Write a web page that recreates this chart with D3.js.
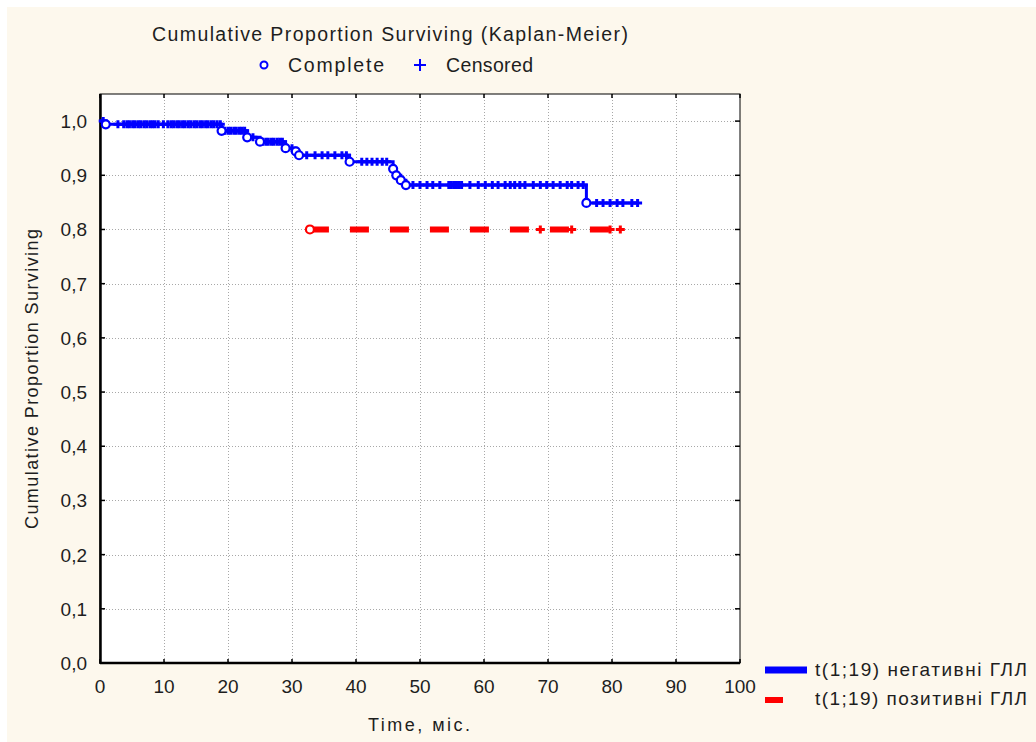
<!DOCTYPE html>
<html>
<head>
<meta charset="utf-8">
<script src="https://cdn.jsdelivr.net/npm/d3@7"></script>
<style>
  body { margin: 0; background: #fff; }
  svg text { font-family: "Liberation Sans", Arial, sans-serif; fill: #1e1e1e; }
</style>
</head>
<body>
<svg id="chart" width="1036" height="742"></svg>
<script>
// axis ticks
var xTickValues = [0, 10, 20, 30, 40, 50, 60, 70, 80, 90, 100];
var yTickValues = [0, 0.1, 0.2, 0.3, 0.4, 0.5, 0.6, 0.7, 0.8, 0.9, 1.0];

// negative group: [time, survival after event]
var negEvents = [
  [0.9, 0.994], [19, 0.982], [23, 0.970], [25, 0.962], [29, 0.950],
  [30.6, 0.944], [31.1, 0.937], [39, 0.925], [45.8, 0.912], [46.3, 0.900],
  [47, 0.891], [47.8, 0.882], [76, 0.849]
];
var negCensored = [
  0.5, 2.8, 3.7, 4.2, 4.6, 5.1, 5.5, 6, 6.4, 6.9, 7.3, 7.8, 8.2, 8.6, 9.1, 9.9,
  10.6, 11.1, 11.5, 12, 12.4, 12.9, 13.3, 13.8, 14.2, 14.7, 15.1, 15.6, 16, 16.5,
  16.9, 17.4, 17.8, 18.3, 18.8, 19.5, 20, 20.4, 20.9, 21.3, 21.8, 22.2, 22.6, 23.9,
  25.4, 25.9, 26.3, 26.8, 27.2, 27.7, 28.1, 28.5, 30, 32.3, 33.6, 34.7, 35.6, 36.7,
  37.8, 38.5, 40.9, 41.7, 42.5, 43.3, 44.1, 44.8, 48.9, 50, 51.1, 52, 53.1, 54.5,
  54.9, 55.3, 55.7, 56.1, 56.5, 57.8, 59.1, 60.2, 61.3, 62.2, 63.3, 64.1, 64.8,
  65.6, 66.4, 67.7, 68.8, 69.8, 70.8, 71.9, 73, 73.7, 74.7, 75.5, 77.6, 78.6,
  79.7, 80.8, 81.7, 83.1, 84
];

// positive group
var posEvents = [[32.8, 0.80]];
var posCensored = [68.8, 73.7, 79.7, 81.3];

var seriesNames = ["t(1;19) негативні ГЛЛ", "t(1;19) позитивні ГЛЛ"];

var svg = d3.select("#chart");

svg.append("rect")
  .attr("x", 7).attr("y", 7).attr("width", 1029).attr("height", 735)
  .attr("fill", "#fdf8ed");

var x = d3.scaleLinear().domain([0, 100]).range([100, 740]),
    y = d3.scaleLinear().domain([0, 1.05]).range([663, 94]);

svg.append("rect")
  .attr("x", x(0)).attr("y", y(1.05))
  .attr("width", x(100) - x(0)).attr("height", y(0) - y(1.05))
  .attr("fill", "#fff");

// dotted grid
var grid = svg.append("g").attr("stroke", "#a8a8a8").attr("stroke-dasharray", "1,2");
grid.selectAll(".gx").data(xTickValues.slice(1, -1)).enter().append("line")
  .attr("x1", function (d) { return x(d) + 0.5; }).attr("x2", function (d) { return x(d) + 0.5; })
  .attr("y1", y(1.05)).attr("y2", y(0));
grid.selectAll(".gy").data(yTickValues.slice(1)).enter().append("line")
  .attr("y1", function (d) { return Math.round(y(d)) + 0.5; }).attr("y2", function (d) { return Math.round(y(d)) + 0.5; })
  .attr("x1", x(0)).attr("x2", x(100));

// frame and inward ticks
var frame = svg.append("g").attr("stroke", "#000");
frame.append("rect")
  .attr("x", x(0)).attr("y", y(1.05)).attr("width", x(100) - x(0)).attr("height", y(0) - y(1.05))
  .attr("fill", "none").attr("stroke-width", 1);
frame.append("line").attr("x1", x(0) + 0.5).attr("x2", x(0) + 0.5).attr("y1", y(1.05)).attr("y2", y(0) + 1).attr("stroke-width", 2.5);
frame.append("line").attr("x1", x(0)).attr("x2", x(100)).attr("y1", y(0)).attr("y2", y(0)).attr("stroke-width", 2.5);
xTickValues.forEach(function (d) {
  frame.append("line").attr("x1", x(d)).attr("x2", x(d)).attr("y1", y(0)).attr("y2", y(0) - 4).attr("stroke-width", 1.5);
  frame.append("line").attr("x1", x(d)).attr("x2", x(d)).attr("y1", y(1.05)).attr("y2", y(1.05) + 4).attr("stroke-width", 1.5);
});
yTickValues.forEach(function (d) {
  frame.append("line").attr("x1", x(0)).attr("x2", x(0) + 5).attr("y1", y(d)).attr("y2", y(d)).attr("stroke-width", 1.5);
  frame.append("line").attr("x1", x(100)).attr("x2", x(100) - 5).attr("y1", y(d)).attr("y2", y(d)).attr("stroke-width", 1.5);
});

// tick labels
var fmt = function (d) { return d3.format(".1f")(d).replace(".", ","); };
svg.append("g").selectAll("text").data(xTickValues).enter().append("text")
  .attr("x", function (d) { return x(d); }).attr("y", 693)
  .attr("text-anchor", "middle").attr("font-size", 19)
  .text(function (d) { return d; });
svg.append("g").selectAll("text").data(yTickValues).enter().append("text")
  .attr("x", 87).attr("y", function (d) { return y(d) + 7; })
  .attr("text-anchor", "end").attr("font-size", 19)
  .text(fmt);

// axis titles
svg.append("text").attr("x", 419).attr("y", 731).attr("text-anchor", "middle")
  .attr("font-size", 18).attr("textLength", 102).text("Time, міс.");
svg.append("text").attr("transform", "translate(38,379) rotate(-90)").attr("text-anchor", "middle")
  .attr("font-size", 18).attr("textLength", 300).text("Cumulative Proportion Surviving");

// title and marker legend
svg.append("text").attr("x", 390).attr("y", 41).attr("text-anchor", "middle")
  .attr("font-size", 19.5).attr("textLength", 476).text("Cumulative Proportion Surviving (Kaplan-Meier)");
svg.append("circle").attr("cx", 264).attr("cy", 65).attr("r", 3.5)
  .attr("fill", "#fff").attr("stroke", "#0000ff").attr("stroke-width", 2);
svg.append("text").attr("x", 288).attr("y", 72).attr("font-size", 19.5).attr("textLength", 96).text("Complete");
svg.append("path").attr("d", "M414,65H426M420,59V71").attr("stroke", "#0000ff").attr("stroke-width", 2);
svg.append("text").attr("x", 446).attr("y", 72).attr("font-size", 19.5).attr("textLength", 87).text("Censored");

// survival curves
function levelAt(events, start, t) {
  var s = start;
  events.forEach(function (e) { if (e[0] <= t) s = e[1]; });
  return s;
}

var line = d3.line()
  .x(function (d) { return x(d[0]); })
  .y(function (d) { return y(d[1]); })
  .curve(d3.curveStepAfter);

var negPts = [[0, 1.0]].concat(negEvents);
negPts.push([d3.max(negCensored), levelAt(negEvents, 1.0, d3.max(negCensored))]);
var posPts = posEvents.slice();
posPts.push([d3.max(posCensored), levelAt(posEvents, 0.8, d3.max(posCensored))]);

function drawSeries(pts, events, censored, start, color, width, dash) {
  var g = svg.append("g");
  g.append("path").attr("d", line(pts)).attr("fill", "none")
    .attr("stroke", color).attr("stroke-width", width)
    .attr("stroke-dasharray", dash);
  g.selectAll(".cens").data(censored).enter().append("path")
    .attr("d", function (d) {
      var cx = x(d), cy = y(levelAt(events, start, d));
      return "M" + (cx - 4.5) + "," + cy + "H" + (cx + 4.5) + "M" + cx + "," + (cy - 4) + "V" + (cy + 4);
    })
    .attr("stroke", color).attr("stroke-width", 3);
  g.selectAll(".ev").data(events).enter().append("circle")
    .attr("cx", function (d) { return x(d[0]); })
    .attr("cy", function (d) { return y(d[1]); })
    .attr("r", 4).attr("fill", "#fff").attr("stroke", color).attr("stroke-width", 2.2);
}

drawSeries(negPts, negEvents, negCensored, 1.0, "#0000ff", 3, null);
drawSeries(posPts, posEvents, posCensored, 0.8, "#ff0000", 6, "19,21");

// series legend
svg.append("line").attr("x1", 765).attr("x2", 807).attr("y1", 670).attr("y2", 670)
  .attr("stroke", "#0000ff").attr("stroke-width", 7);
svg.append("line").attr("x1", 765).attr("x2", 783).attr("y1", 700).attr("y2", 700)
  .attr("stroke", "#ff0000").attr("stroke-width", 6);
svg.append("text").attr("x", 815).attr("y", 676).attr("font-size", 19).attr("textLength", 212).text(seriesNames[0]);
svg.append("text").attr("x", 815).attr("y", 705).attr("font-size", 19).attr("textLength", 212).text(seriesNames[1]);
</script>
</body>
</html>
